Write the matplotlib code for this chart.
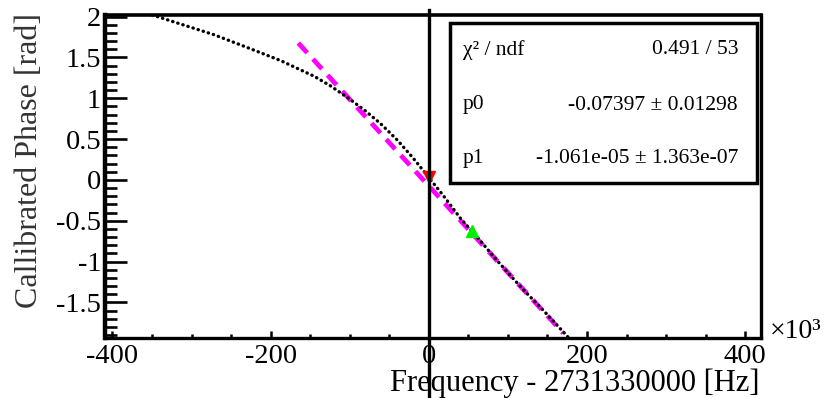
import matplotlib
matplotlib.use("Agg")
import matplotlib.pyplot as plt
import numpy as np
from matplotlib.patches import Rectangle
from matplotlib.ticker import MultipleLocator, FuncFormatter

# phase curve (x in kHz from 2731330000 Hz)
freq_khz = [-356, -314, -272, -229, -187, -145, -124, -103, -82, -61, -40, -20,
            0, 19, 40, 62, 83, 104, 125, 146, 166, 186]
phase = [2.04, 1.91, 1.78, 1.62, 1.46, 1.27, 1.15, 1.01, 0.86, 0.69, 0.49, 0.27,
         0.03, -0.20, -0.47, -0.71, -0.95, -1.18, -1.40, -1.61, -1.82, -2.03]

# linear fit shown in the stats box
p0 = -0.07397
p1 = -1.061e-05
fit_range_khz = [-165, 170]

# marked points
red_mark = (0.5, 0.04)
green_mark = (55, -0.63)

stats_rows = [("χ² / ndf", "0.491 / 53"),
              ("p0", "-0.07397 ± 0.01298"),
              ("p1", "-1.061e-05 ± 1.363e-07")]

plt.rcParams["font.family"] = ["Liberation Serif", "DejaVu Serif"]
plt.rcParams["axes.unicode_minus"] = False

W, H = 825, 398
fig = plt.figure(figsize=(W / 100, H / 100), dpi=100)
ax = fig.add_axes([0.1267, 0.150, 0.9224 - 0.1267, 0.9623 - 0.150])

ax.plot(freq_khz, phase, color="black", lw=2.4, ls=(0, (0.1, 1.5)),
        dash_capstyle="round", zorder=4)

fx = np.array(fit_range_khz, dtype=float)
ax.plot(fx, p0 + p1 * fx * 1e3, color="#ff00ff", lw=3.4, ls=(0, (2.8, 1.8)),
        zorder=3)

ax.plot(*red_mark, marker="v", color="red", ms=9, ls="none", zorder=5)
ax.plot(*green_mark, marker="^", color="#00ee00", ms=9, ls="none", zorder=5)

ax.axvline(0, ymin=-0.2, ymax=1.0155, color="black", lw=2.4, clip_on=False,
           zorder=7)

ax.set_xlim(-410, 420)
ax.set_ylim(-1.94, 2.02)

ax.xaxis.set_major_locator(MultipleLocator(200))
ax.xaxis.set_minor_locator(MultipleLocator(50))
ax.yaxis.set_major_locator(MultipleLocator(0.5))
ax.yaxis.set_minor_locator(MultipleLocator(0.1))
ax.yaxis.set_major_formatter(FuncFormatter(lambda v, _: f"{round(v, 3) + 0:g}"))

ax.tick_params(axis="y", which="major", direction="in", length=16, width=1.9,
               pad=2.5, labelsize=20.5)
ax.tick_params(axis="y", which="minor", direction="in", length=8.6, width=1.9)
ax.tick_params(axis="x", which="major", direction="in", length=5.4, width=1.8,
               pad=4, labelsize=20.5)
ax.tick_params(axis="x", which="minor", direction="in", length=3.2, width=1.8)

for side, lw in [("left", 3.2), ("bottom", 2.4), ("top", 2.6), ("right", 2.4)]:
    ax.spines[side].set_linewidth(lw)

# stats box
ax.add_patch(Rectangle((0.526, 0.480), 0.468, 0.495, transform=ax.transAxes,
                       facecolor="white", edgecolor="black", lw=2.5, zorder=6))
for (name, val), ypx in zip(stats_rows, [50, 105, 158]):
    fig.text(463 / W, 1 - ypx / H, name, fontsize=15.5, va="center",
             ha="left", zorder=8)
    fig.text(738 / W, 1 - ypx / H, val, fontsize=15.5, va="center",
             ha="right", zorder=8)

fig.text(30 / W, 1 - 13 / H, "Callibrated Phase [rad]", rotation=90,
         ha="center", va="top", fontsize=23, color="#333333")
fig.text(760 / W, 1 - 390.5 / H, "Frequency - 2731330000 [Hz]", ha="right",
         va="baseline", fontsize=22)
fig.text(770 / W, 1 - 338 / H, "×10³", ha="left", va="baseline", fontsize=20)

fig.savefig("out.png", dpi=100)
